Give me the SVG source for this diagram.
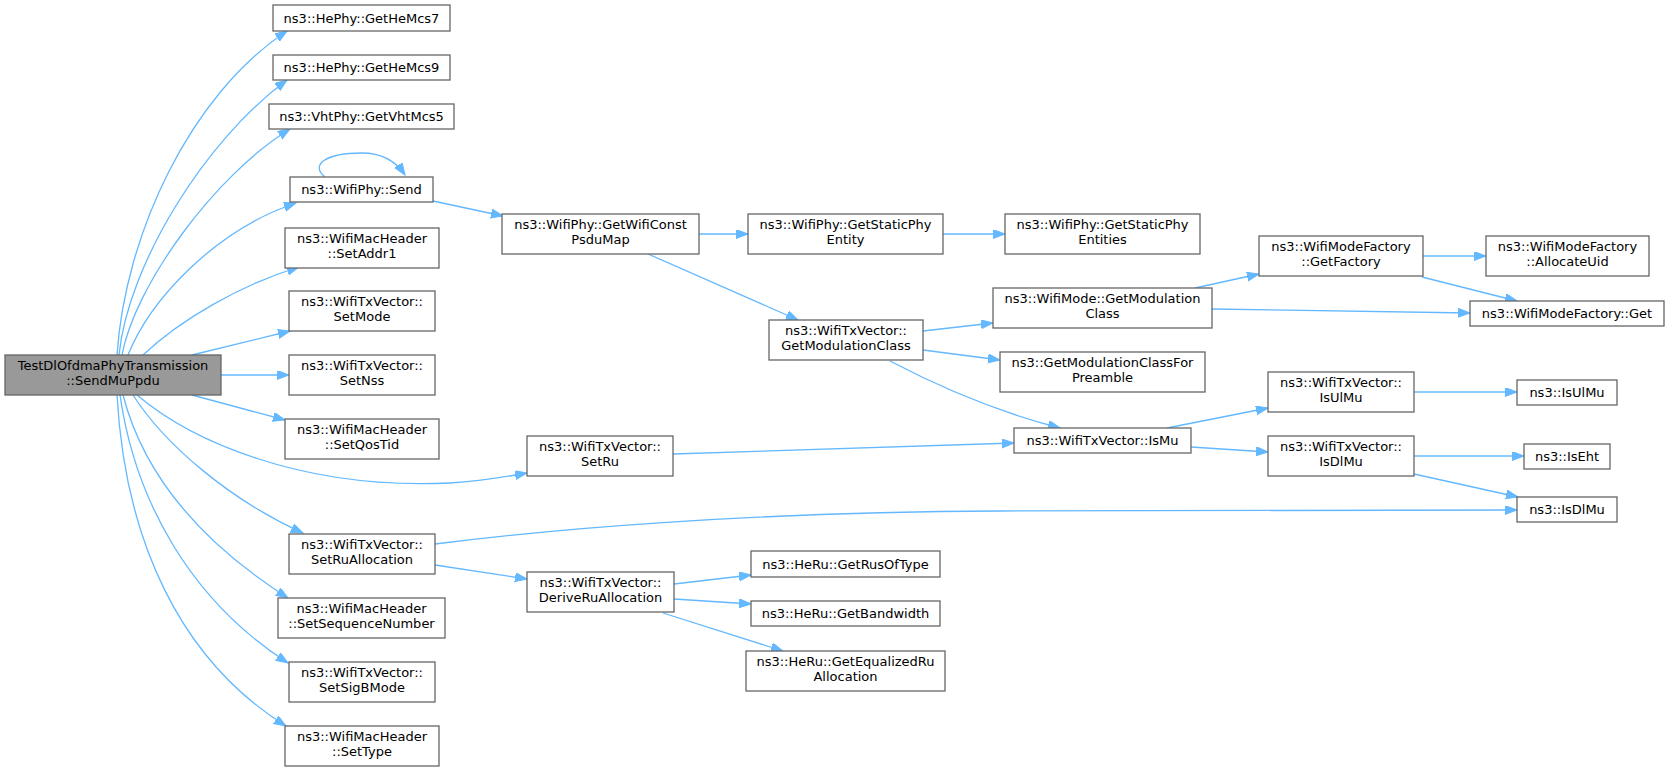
<svg xmlns="http://www.w3.org/2000/svg" width="1669" height="771" viewBox="0 0 1669 771">
<style>
  .n rect { fill: #ffffff; stroke: #666666; stroke-width: 1.3; }
  .n.main rect { fill: #999999; stroke: #666666; }
  .n text { font-family: "DejaVu Sans", sans-serif; font-size: 13px; fill: #000000; text-anchor: middle; }
  .e path { fill: none; stroke: #63b8ff; stroke-width: 1.3; marker-end: url(#arr); }
</style>
<defs>
  <marker id="arr" markerUnits="userSpaceOnUse" markerWidth="14" markerHeight="10" refX="12" refY="4.5" orient="auto" viewBox="0 0 14 10">
    <path d="M0,0 L12,4.5 L0,9 z" fill="#63b8ff" stroke="#63b8ff" stroke-width="1"/>
  </marker>
</defs>
<rect width="1669" height="771" fill="#ffffff"/>
<g id="connectors" class="e">
  <path d="M117,355 C125,235 190,95 287,31"/>
  <path d="M119,355 C128,265 205,140 287,80"/>
  <path d="M122,355 C135,285 215,175 290,129"/>
  <path d="M128,355 C150,300 215,230 296,203"/>
  <path d="M143,355 C180,320 240,285 299,267"/>
  <path d="M192,355 L290,331"/>
  <path d="M221,375 L289,375"/>
  <path d="M192,395 L285,420"/>
  <path d="M137,395 C190,440 300,490 450,483 C480,481 505,477 527,473"/>
  <path d="M133,395 C165,445 230,500 303,533"/>
  <path d="M123,395 C145,480 205,545 288,598"/>
  <path d="M120,395 C135,500 190,600 288,663"/>
  <path d="M117,395 C125,540 180,660 286,726"/>
  <path d="M325,177 C310,165 325,153 362,153 C385,153 397,163 405,175"/>
  <path d="M433,201 L503,216"/>
  <path d="M699,234 L748,234"/>
  <path d="M648,254 L798,320"/>
  <path d="M943,234 L1005,234"/>
  <path d="M923,331 L993,323"/>
  <path d="M923,350 L1000,360"/>
  <path d="M890,361 C930,382 990,410 1060,428"/>
  <path d="M673,454 L1014,443"/>
  <path d="M1195,288 L1259,274"/>
  <path d="M1212,309 L1470,313"/>
  <path d="M1423,256 L1486,256"/>
  <path d="M1422,277 L1517,301"/>
  <path d="M1167,428 L1268,408"/>
  <path d="M1191,447 L1268,452"/>
  <path d="M1414,392 L1517,392"/>
  <path d="M1414,456 L1524,456"/>
  <path d="M1414,474 L1518,497"/>
  <path d="M435,544 C560,528 760,512 1000,511 C1200,510 1400,510 1517,510"/>
  <path d="M435,565 L527,579"/>
  <path d="M674,584 L751,575"/>
  <path d="M674,599 L751,604"/>
  <path d="M663,613 L783,651"/>
</g>
<g id="n_main" class="n main"><rect x="5" y="355" width="216" height="40"/><text x="113" y="370">TestDlOfdmaPhyTransmission</text><text x="113" y="385">::SendMuPpdu</text></g>
<g id="n_hemcs7" class="n"><rect x="273" y="5" width="177" height="26"/><text x="361.5" y="22.5">ns3::HePhy::GetHeMcs7</text></g>
<g id="n_hemcs9" class="n"><rect x="273" y="55" width="177" height="25"/><text x="361.5" y="72">ns3::HePhy::GetHeMcs9</text></g>
<g id="n_vhtmcs5" class="n"><rect x="269" y="104" width="185" height="25"/><text x="361.5" y="121">ns3::VhtPhy::GetVhtMcs5</text></g>
<g id="n_send" class="n"><rect x="290" y="177" width="143" height="25"/><text x="361.5" y="194">ns3::WifiPhy::Send</text></g>
<g id="n_setaddr1" class="n"><rect x="285" y="228" width="154" height="40"/><text x="362" y="243">ns3::WifiMacHeader</text><text x="362" y="258">::SetAddr1</text></g>
<g id="n_setmode" class="n"><rect x="289" y="291" width="146" height="40"/><text x="362" y="306">ns3::WifiTxVector::</text><text x="362" y="321">SetMode</text></g>
<g id="n_setnss" class="n"><rect x="289" y="355" width="146" height="40"/><text x="362" y="370">ns3::WifiTxVector::</text><text x="362" y="385">SetNss</text></g>
<g id="n_setqostid" class="n"><rect x="285" y="419" width="154" height="40"/><text x="362" y="434">ns3::WifiMacHeader</text><text x="362" y="449">::SetQosTid</text></g>
<g id="n_setru" class="n"><rect x="527" y="436" width="146" height="40"/><text x="600" y="451">ns3::WifiTxVector::</text><text x="600" y="466">SetRu</text></g>
<g id="n_setruallocation" class="n"><rect x="289" y="534" width="146" height="40"/><text x="362" y="549">ns3::WifiTxVector::</text><text x="362" y="564">SetRuAllocation</text></g>
<g id="n_setseqnum" class="n"><rect x="278" y="598" width="167" height="40"/><text x="361.5" y="613">ns3::WifiMacHeader</text><text x="361.5" y="628">::SetSequenceNumber</text></g>
<g id="n_setsigbmode" class="n"><rect x="289" y="662" width="146" height="40"/><text x="362" y="677">ns3::WifiTxVector::</text><text x="362" y="692">SetSigBMode</text></g>
<g id="n_settype" class="n"><rect x="285" y="726" width="154" height="40"/><text x="362" y="741">ns3::WifiMacHeader</text><text x="362" y="756">::SetType</text></g>
<g id="n_getwificonstpsdumap" class="n"><rect x="502" y="214" width="197" height="40"/><text x="600.5" y="229">ns3::WifiPhy::GetWifiConst</text><text x="600.5" y="244">PsduMap</text></g>
<g id="n_getstaticphyentity" class="n"><rect x="748" y="214" width="195" height="40"/><text x="845.5" y="229">ns3::WifiPhy::GetStaticPhy</text><text x="845.5" y="244">Entity</text></g>
<g id="n_txv_getmodclass" class="n"><rect x="769" y="320" width="154" height="40"/><text x="846" y="335">ns3::WifiTxVector::</text><text x="846" y="350">GetModulationClass</text></g>
<g id="n_deriveru" class="n"><rect x="527" y="572" width="147" height="40"/><text x="600.5" y="587">ns3::WifiTxVector::</text><text x="600.5" y="602">DeriveRuAllocation</text></g>
<g id="n_getstaticphyentities" class="n"><rect x="1005" y="214" width="195" height="40"/><text x="1102.5" y="229">ns3::WifiPhy::GetStaticPhy</text><text x="1102.5" y="244">Entities</text></g>
<g id="n_mode_getmodclass" class="n"><rect x="993" y="288" width="219" height="40"/><text x="1102.5" y="303">ns3::WifiMode::GetModulation</text><text x="1102.5" y="318">Class</text></g>
<g id="n_getmodclassforpreamble" class="n"><rect x="1000" y="352" width="205" height="40"/><text x="1102.5" y="367">ns3::GetModulationClassFor</text><text x="1102.5" y="382">Preamble</text></g>
<g id="n_ismu" class="n"><rect x="1014" y="428" width="177" height="25"/><text x="1102.5" y="445">ns3::WifiTxVector::IsMu</text></g>
<g id="n_getrusoftype" class="n"><rect x="751" y="551" width="189" height="26"/><text x="845.5" y="568.5">ns3::HeRu::GetRusOfType</text></g>
<g id="n_getbandwidth" class="n"><rect x="751" y="601" width="189" height="25"/><text x="845.5" y="618">ns3::HeRu::GetBandwidth</text></g>
<g id="n_getequalizedru" class="n"><rect x="746" y="651" width="199" height="40"/><text x="845.5" y="666">ns3::HeRu::GetEqualizedRu</text><text x="845.5" y="681">Allocation</text></g>
<g id="n_getfactory" class="n"><rect x="1259" y="236" width="164" height="40"/><text x="1341" y="251">ns3::WifiModeFactory</text><text x="1341" y="266">::GetFactory</text></g>
<g id="n_txv_isulmu" class="n"><rect x="1268" y="372" width="146" height="40"/><text x="1341" y="387">ns3::WifiTxVector::</text><text x="1341" y="402">IsUlMu</text></g>
<g id="n_txv_isdlmu" class="n"><rect x="1268" y="436" width="146" height="40"/><text x="1341" y="451">ns3::WifiTxVector::</text><text x="1341" y="466">IsDlMu</text></g>
<g id="n_allocateuid" class="n"><rect x="1486" y="236" width="163" height="40"/><text x="1567.5" y="251">ns3::WifiModeFactory</text><text x="1567.5" y="266">::AllocateUid</text></g>
<g id="n_factory_get" class="n"><rect x="1470" y="301" width="194" height="25"/><text x="1567" y="318">ns3::WifiModeFactory::Get</text></g>
<g id="n_isulmu" class="n"><rect x="1517" y="380" width="100" height="25"/><text x="1567" y="397">ns3::IsUlMu</text></g>
<g id="n_iseht" class="n"><rect x="1524" y="444" width="86" height="25"/><text x="1567" y="461">ns3::IsEht</text></g>
<g id="n_isdlmu" class="n"><rect x="1517" y="497" width="100" height="25"/><text x="1567" y="514">ns3::IsDlMu</text></g>
</svg>
